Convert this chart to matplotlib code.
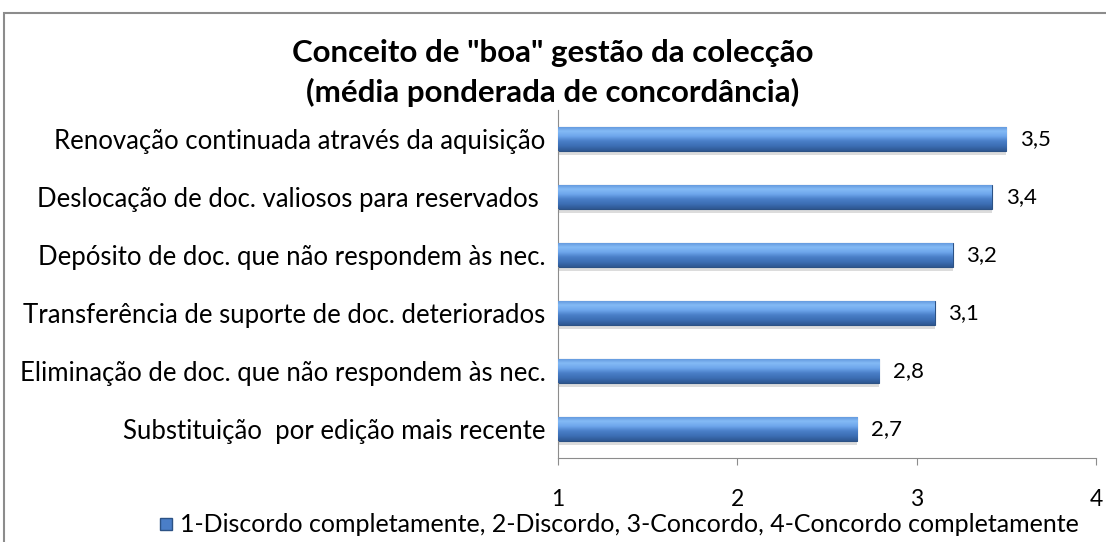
import matplotlib
matplotlib.use("Agg")
from matplotlib import pyplot as plt
from matplotlib.patches import Rectangle
from matplotlib.lines import Line2D
from matplotlib.colors import LinearSegmentedColormap
import numpy as np

plt.rcParams['font.family'] = ['Lato', 'DejaVu Sans']

categorias = ['Renovação continuada através da aquisição',
              'Deslocação de doc. valiosos para reservados ',
              'Depósito de doc. que não respondem às nec.',
              'Transferência de suporte de doc. deteriorados',
              'Eliminação de doc. que não respondem às nec.',
              'Substituição  por edição mais recente']
medias = [3.50, 3.42, 3.20, 3.10, 2.79, 2.67]
xticks = [1, 2, 3, 4]
legenda = '1-Discordo completamente, 2-Discordo, 3-Concordo, 4-Concordo completamente'

W, H = 1106, 542
fig = plt.figure(figsize=(W / 100, H / 100), dpi=100)
ax = fig.add_axes([558 / W, 1 - 458 / H, (1096 - 558) / W, (458 - 110) / H])

# moldura exterior
fig.patches.append(Rectangle((4 / W, -0.1), 1.2, 1 - 13 / H + 0.1,
                             transform=fig.transFigure, fill=False,
                             edgecolor='#8c8c8c', linewidth=1.5))

y = np.arange(len(categorias))
alt = 0.42

# sombra
ax.barh(y + 0.07, np.array(medias) - 1, left=1, height=alt,
        color='#c0c0c0', alpha=0.55, zorder=1)
bars = ax.barh(y, np.array(medias) - 1, left=1, height=alt,
               color='#3F73BA', edgecolor='#2C5285', linewidth=0.8, zorder=2)

grad = LinearSegmentedColormap.from_list('g', ['#5E94DA', '#84BAF5', '#6EA6EC',
                                               '#4A7FC8', '#3C6EB4', '#2E5791'])
g = np.linspace(0, 1, 100).reshape(-1, 1)
for b in bars:
    x0, y0 = b.get_x(), b.get_y()
    im = ax.imshow(g, cmap=grad, aspect='auto', zorder=3,
                   extent=[x0, x0 + b.get_width(), y0 + b.get_height(), y0])
    im.set_clip_path(b)

for yi, v in zip(y, medias):
    ax.annotate(f'{v:.1f}'.replace('.', ','), (v, yi), xytext=(10, 0),
                textcoords='offset points', va='center', ha='left', fontsize=16)

ax.set_xlim(1, 4)
ax.set_ylim(len(categorias) - 0.5, -0.5)
ax.set_xticks(xticks)
ax.set_xticklabels([str(t) for t in xticks], fontsize=16.5)
ax.tick_params(axis='x', direction='out', length=5, color='#8c8c8c', pad=17)
ax.set_yticks(y)
ax.set_yticklabels(categorias, fontsize=18.5)
ax.tick_params(axis='y', length=0, pad=9)
for s in ['top', 'right']:
    ax.spines[s].set_visible(False)
for s in ['left', 'bottom']:
    ax.spines[s].set_color('#8c8c8c')

fig.text(0.5, 1 - 73 / H, 'Conceito de "boa" gestão da colecção\n(média ponderada de concordância)',
         ha='center', va='center', fontsize=22.5, fontweight='bold', linespacing=1.45)

h = Line2D([], [], marker='s', linestyle='none', markersize=9,
           markerfacecolor='#4A7EC8', markeredgecolor='#2C5285')
fig.legend([h], [legenda], loc='center', bbox_to_anchor=(618 / W, 1 - 525 / H),
           frameon=False, fontsize=18, handletextpad=0.2, handlelength=0.7,
           borderpad=0, borderaxespad=0)

fig.savefig('out.png', dpi=100)
